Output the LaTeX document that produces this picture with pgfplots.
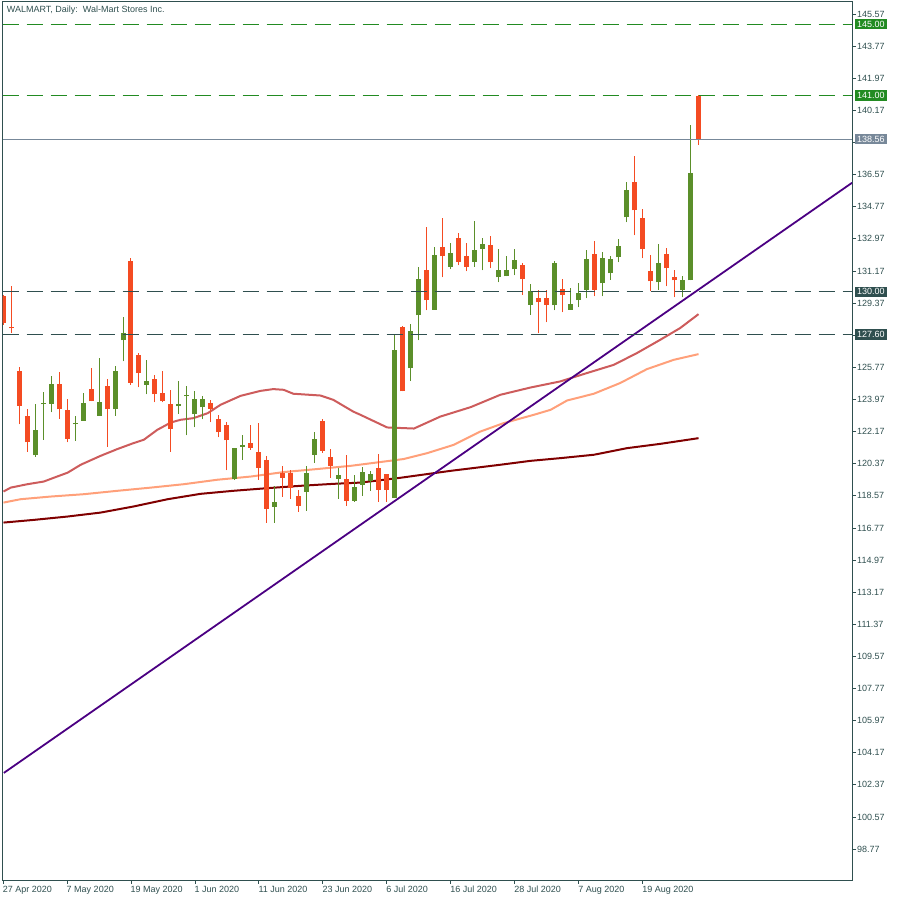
\documentclass[border=0pt]{standalone}
\usepackage{pgfplots}
\pgfplotsset{compat=1.18}
\usepackage{pgfplotstable}
\usepackage{fontspec}
\setmainfont{Liberation Sans}

\definecolor{bull}{HTML}{5B8F2A}
\definecolor{bear}{HTML}{F44B22}
\definecolor{frame}{HTML}{2F4F4F}
\definecolor{ma50}{HTML}{CD5C5C}
\definecolor{ma100}{HTML}{FFA07A}
\definecolor{ma200}{HTML}{800000}
\definecolor{trend}{HTML}{4B0082}
\definecolor{lvlgreen}{HTML}{228B22}
\definecolor{lastprice}{HTML}{778899}

% daily candles, k = trading day from 27 Apr 2020
\pgfplotstableread{
k  o      h      l      c
4  120.83 123.73 120.77 122.27
5  123.69 124.40 121.71 123.76
6  123.74 125.30 123.24 124.85
9  122.57 123.05 121.65 122.66
10 122.79 124.32 122.79 123.78
12 123.07 126.27 123.07 123.84
14 123.41 125.87 123.07 125.58
15 127.28 128.60 126.10 127.71
18 124.79 126.19 124.25 125.02
22 123.58 125.02 123.18 123.73
23 124.14 124.73 121.95 124.23
24 123.13 124.45 122.40 124.01
25 123.52 124.17 122.85 124.01
29 119.52 121.26 119.46 121.26
30 121.33 121.99 120.59 121.43
34 117.95 119.13 117.07 118.23
38 118.79 120.25 117.73 119.86
39 120.87 122.16 120.42 121.76
42 119.52 120.14 118.40 119.75
44 118.29 119.75 118.23 119.07
45 119.19 120.19 118.57 119.91
46 119.41 119.97 118.85 119.80
49 118.44 127.59 118.44 126.75
51 125.71 128.21 125.00 127.82
52 128.68 131.40 127.28 130.73
54 129.01 132.53 129.01 132.08
56 131.42 132.75 131.26 132.19
59 131.70 133.98 131.42 132.36
60 132.41 133.03 131.20 132.70
62 130.81 132.41 130.53 131.24
63 130.86 132.02 130.86 131.24
64 131.26 132.41 130.92 131.80
66 129.29 130.45 128.73 130.06
69 129.24 131.74 128.96 131.63
71 129.01 130.23 129.01 129.33
72 129.52 130.51 129.13 129.95
73 130.13 132.36 129.63 131.85
75 130.47 132.25 129.74 131.91
76 131.03 132.02 130.69 131.85
77 131.93 132.97 131.65 132.58
78 134.17 136.17 133.89 135.72
82 130.53 132.69 130.13 131.63
85 130.13 130.90 129.69 130.68
86 130.64 139.36 130.64 136.67
}\bulltab

\pgfplotstableread{
k  o      h      l      c
0  129.78 129.85 128.15 128.25
1  128.05 130.30 127.72 127.95
2  125.58 125.80 122.57 123.63
3  123.05 123.43 121.03 121.56
7  124.85 125.52 122.89 123.41
8  123.39 124.01 121.56 121.78
11 124.57 125.74 123.86 123.86
13 124.73 125.13 121.33 123.41
16 131.74 131.91 124.79 124.90
17 126.47 126.58 124.64 125.43
19 125.13 125.35 123.80 124.25
20 124.34 125.58 123.80 123.86
21 123.73 124.51 121.05 122.29
26 123.78 123.95 122.68 123.46
27 122.89 123.11 121.84 122.12
28 122.55 122.72 119.99 121.67
31 121.54 122.55 121.15 121.26
32 121.04 122.66 119.46 120.14
33 120.59 120.81 117.07 117.84
35 119.86 120.25 118.51 119.58
36 119.86 120.03 118.40 119.02
37 118.57 118.90 117.67 118.01
40 122.77 122.88 120.98 121.09
41 120.76 121.20 119.58 120.25
43 119.52 120.87 118.01 118.29
47 120.14 120.92 118.23 118.90
48 119.80 119.80 118.23 118.90
50 128.04 128.10 124.42 124.42
53 131.24 133.65 128.96 129.52
55 132.53 134.15 130.81 131.99
57 133.03 133.28 131.48 131.70
58 132.02 132.75 131.14 131.42
61 132.64 133.14 131.31 131.65
65 131.52 131.63 129.85 130.70
67 129.67 130.12 127.67 129.41
68 129.67 130.12 128.29 129.29
70 130.17 130.73 128.85 129.85
74 132.13 132.86 129.74 130.13
79 136.17 137.63 133.16 134.56
80 134.15 134.66 131.87 132.38
81 131.18 132.08 130.02 130.58
83 132.13 132.47 130.30 131.31
84 130.84 131.24 129.69 130.64
87 140.99 141.05 138.24 138.56
}\beartab

\begin{document}
\begin{tikzpicture}
\useasboundingbox (0,0) rectangle (900pt,900pt);
\begin{axis}[
    at={(2.7pt,20pt)}, anchor=south west,
    width=849.3pt, height=878.3pt, scale only axis,
    xmin=-0.05, xmax=106.2, ymin=97.04, ymax=146.26,
    clip mode=individual,
    axis line style={frame, line width=0.8pt},
    xtick pos=bottom, ytick pos=right, yticklabel pos=right,
    tick align=outside, major tick length=4pt,
    tick style={frame, line width=0.8pt},
    xtick={0,8,...,80},
    xticklabels={27 Apr 2020, 7 May 2020, 19 May 2020, 1 Jun 2020, 11 Jun 2020, 23 Jun 2020, 6 Jul 2020, 16 Jul 2020, 28 Jul 2020, 7 Aug 2020, 19 Aug 2020},
    xticklabel style={anchor=north west, inner sep=0pt, xshift=-0.5pt, yshift=-2pt},
    ytick={98.77,100.57,102.37,104.17,105.97,107.77,109.57,111.37,113.17,114.97,116.77,118.57,120.37,122.17,123.97,125.77,127.57,129.37,131.17,132.97,134.77,136.57,138.37,140.17,141.97,143.77,145.57},
    yticklabels={98.77,100.57,102.37,104.17,105.97,107.77,109.57,111.37,113.17,114.97,116.77,118.57,120.37,122.17,123.97,125.77,127.57,129.37,131.17,132.97,134.77,136.57,,140.17,141.97,143.77,145.57},
    yticklabel style={anchor=west, inner sep=0pt, xshift=1pt},
    ticklabel style={font=\fontsize{9}{10}\selectfont, text=frame},
]
% moving averages
\addplot[ma200, line width=2pt] coordinates {
(0.05,117.07) (3.84,117.22) (8.09,117.41) (12.2,117.63) (16.3,117.97) (20.6,118.38)
(24.7,118.68) (28.8,118.85) (33.1,119.00) (37.2,119.13) (41.3,119.24) (44.7,119.31)
(49.7,119.58) (56.0,119.97) (62.2,120.31) (66.0,120.53) (69.7,120.68) (73.9,120.87)
(78.05,121.24) (82.2,121.48) (87,121.80)};
\addplot[ma100, line width=2pt] coordinates {
(0.05,118.19) (2.2,118.38) (6.0,118.53) (10.1,118.66) (14.3,118.85) (18.5,119.03)
(22.6,119.22) (26.8,119.47) (31.0,119.65) (35.1,119.90) (39.3,120.07) (43.5,120.25)
(50.1,120.63) (53.05,120.96) (56.4,121.43) (59.7,122.17) (62.6,122.64) (66.4,123.11)
(68.5,123.39) (70.55,123.91) (73.9,124.29) (77.2,124.89) (80.55,125.67) (83.9,126.19)
(87,126.51)};
\addplot[ma50, line width=2pt] coordinates {
(0.05,118.81) (0.96,119.03) (3.05,119.22) (5.09,119.37) (6.34,119.58) (8.09,119.87)
(9.71,120.31) (12.2,120.81) (14.3,121.19) (16.3,121.52) (17.6,121.71) (19.3,122.27)
(21.0,122.68) (22.2,122.83) (23.8,122.92) (25.6,123.20) (27.2,123.67) (29.7,124.17)
(32.2,124.45) (33.8,124.55) (35.1,124.51) (36.3,124.29) (39.7,124.19) (41.3,123.95)
(43.8,123.29) (44.7,123.11) (48.05,122.40) (51.4,122.34) (54.7,123.01) (58.5,123.54)
(62.2,124.23) (66.0,124.64) (69.7,124.98) (73.05,125.45) (76.4,125.91) (79.3,126.57)
(82.2,127.31) (84.7,127.97) (87,128.75)};
% wicks
\addplot[draw=none, mark=none, error bars/.cd, y dir=both, y explicit, error mark=none,
    error bar style={draw=bull, line width=1pt}]
    table[x=k, y=l, y error plus expr=\thisrow{h}-\thisrow{l}, y error minus expr=0] {\bulltab};
\addplot[draw=none, mark=none, error bars/.cd, y dir=both, y explicit, error mark=none,
    error bar style={draw=bear, line width=1pt}]
    table[x=k, y=l, y error plus expr=\thisrow{h}-\thisrow{l}, y error minus expr=0] {\beartab};
% bodies
\addplot[draw=none, mark=none, error bars/.cd, y dir=both, y explicit, error mark=none,
    error bar style={draw=bull, line width=5pt}]
    table[x=k, y=o, y error plus expr={max(\thisrow{c}-\thisrow{o},0.06)}, y error minus expr=0] {\bulltab};
\addplot[draw=none, mark=none, error bars/.cd, y dir=both, y explicit, error mark=none,
    error bar style={draw=bear, line width=5pt}]
    table[x=k, y=c, y error plus expr={max(\thisrow{o}-\thisrow{c},0.06)}, y error minus expr=0] {\beartab};
% trend line
\addplot[trend, line width=1.8pt] coordinates {(0.09,103.04) (106.2,136.11)};
% levels
\addplot[lvlgreen, line width=1pt, dash pattern=on 16pt off 8pt] coordinates {(-0.05,145.00) (106.2,145.00)};
\addplot[lvlgreen, line width=1pt, dash pattern=on 16pt off 8pt] coordinates {(-0.05,141.00) (106.2,141.00)};
\addplot[frame, line width=1pt, dash pattern=on 16pt off 8pt] coordinates {(-0.05,130.00) (106.2,130.00)};
\addplot[frame, line width=1pt, dash pattern=on 16pt off 8pt] coordinates {(-0.05,127.60) (106.2,127.60)};
\addplot[lastprice, line width=1pt] coordinates {(-0.05,138.56) (106.2,138.56)};
% price labels
\begin{scope}[every node/.style={anchor=west, text=white, inner xsep=2pt, inner ysep=1pt,
    minimum height=10.5pt, font=\fontsize{9}{10}\selectfont, xshift=3pt}]
\node[fill=lvlgreen] at (axis cs:106.2,145.00) {145.00};
\node[fill=lvlgreen] at (axis cs:106.2,141.00) {141.00};
\node[fill=lastprice] at (axis cs:106.2,138.56) {138.56};
\node[fill=frame] at (axis cs:106.2,130.00) {130.00};
\node[fill=frame] at (axis cs:106.2,127.60) {127.60};
\end{scope}
\node[anchor=north west, inner sep=0pt, text=frame, font=\fontsize{9}{10}\selectfont,
    xshift=4pt, yshift=-4pt] at (rel axis cs:0,1) {WALMART, Daily:\ \ Wal-Mart Stores Inc.};
\end{axis}
\end{tikzpicture}
\end{document}
